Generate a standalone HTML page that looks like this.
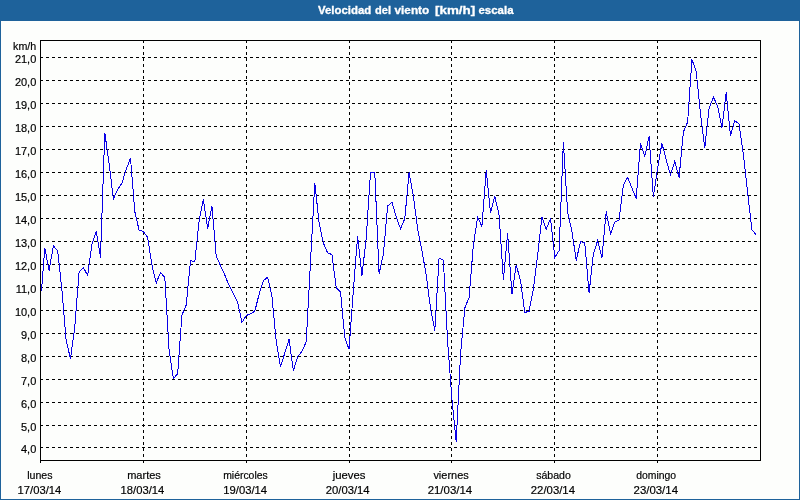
<!DOCTYPE html>
<html lang="es">
<head>
<meta charset="utf-8">
<title>Velocidad del viento [km/h] escala</title>
<style>
html,body{margin:0;padding:0;}
body{width:800px;height:500px;overflow:hidden;background:#1e629b;font-family:"Liberation Sans",sans-serif;}
#frame{position:absolute;left:0;top:0;width:800px;height:500px;background:#1e629b;}
#inner{position:absolute;left:1px;top:21px;width:798px;height:478px;background:#fdfefc;}
svg{position:absolute;left:0;top:0;}
text{font-family:"Liberation Sans",sans-serif;font-size:11px;fill:#000;stroke:#000;stroke-width:0.18px;}
.title{font-weight:bold;fill:#ffffff;stroke:#ffffff;stroke-width:0.3px;}
.grid line{stroke:#000;stroke-width:1;stroke-dasharray:3 3;shape-rendering:crispEdges;}
.axis{stroke:#000;stroke-width:1;fill:none;shape-rendering:crispEdges;}
.data{stroke:#0a00e6;stroke-width:1;fill:none;shape-rendering:crispEdges;stroke-linejoin:miter;}
</style>
</head>
<body>
<div id="frame"><div id="inner"></div>
<svg width="800" height="500" viewBox="0 0 800 500">
<text class="title" x="318.00" y="14" textLength="53.25" lengthAdjust="spacingAndGlyphs">Velocidad</text>
<text class="title" x="375.00" y="14" textLength="16.00" lengthAdjust="spacingAndGlyphs">del</text>
<text class="title" x="394.50" y="14" textLength="34.75" lengthAdjust="spacingAndGlyphs">viento</text>
<text class="title" x="435.00" y="14" textLength="40.25" lengthAdjust="spacingAndGlyphs">[km/h]</text>
<text class="title" x="478.50" y="14" textLength="35.00" lengthAdjust="spacingAndGlyphs">escala</text>
<g class="grid">
<line x1="40" y1="57.5" x2="760" y2="57.5"/>
<line x1="40" y1="80.5" x2="760" y2="80.5"/>
<line x1="40" y1="103.5" x2="760" y2="103.5"/>
<line x1="40" y1="126.5" x2="760" y2="126.5"/>
<line x1="40" y1="149.5" x2="760" y2="149.5"/>
<line x1="40" y1="172.5" x2="760" y2="172.5"/>
<line x1="40" y1="195.5" x2="760" y2="195.5"/>
<line x1="40" y1="218.5" x2="760" y2="218.5"/>
<line x1="40" y1="241.5" x2="760" y2="241.5"/>
<line x1="40" y1="264.5" x2="760" y2="264.5"/>
<line x1="40" y1="287.5" x2="760" y2="287.5"/>
<line x1="40" y1="310.5" x2="760" y2="310.5"/>
<line x1="40" y1="333.5" x2="760" y2="333.5"/>
<line x1="40" y1="356.5" x2="760" y2="356.5"/>
<line x1="40" y1="379.5" x2="760" y2="379.5"/>
<line x1="40" y1="402.5" x2="760" y2="402.5"/>
<line x1="40" y1="425.5" x2="760" y2="425.5"/>
<line x1="40" y1="447.5" x2="760" y2="447.5"/>
<line x1="143.5" y1="40" x2="143.5" y2="460"/>
<line x1="246.5" y1="40" x2="246.5" y2="460"/>
<line x1="349.5" y1="40" x2="349.5" y2="460"/>
<line x1="451.5" y1="40" x2="451.5" y2="460"/>
<line x1="554.5" y1="40" x2="554.5" y2="460"/>
<line x1="657.5" y1="40" x2="657.5" y2="460"/>
</g>
<rect class="axis" x="40.5" y="40.5" width="720" height="420"/>
<g class="axis">
<line x1="40.5" y1="460" x2="40.5" y2="463"/>
<line x1="143.5" y1="460" x2="143.5" y2="463"/>
<line x1="246.5" y1="460" x2="246.5" y2="463"/>
<line x1="349.5" y1="460" x2="349.5" y2="463"/>
<line x1="451.5" y1="460" x2="451.5" y2="463"/>
<line x1="554.5" y1="460" x2="554.5" y2="463"/>
<line x1="657.5" y1="460" x2="657.5" y2="463"/>
</g>
<text x="36.3" y="49.5" text-anchor="end" textLength="23.2" lengthAdjust="spacingAndGlyphs">km/h</text>
<text x="36.3" y="63" text-anchor="end">21,0</text>
<text x="36.3" y="86" text-anchor="end">20,0</text>
<text x="36.3" y="109" text-anchor="end">19,0</text>
<text x="36.3" y="132" text-anchor="end">18,0</text>
<text x="36.3" y="155" text-anchor="end">17,0</text>
<text x="36.3" y="178" text-anchor="end">16,0</text>
<text x="36.3" y="201" text-anchor="end">15,0</text>
<text x="36.3" y="224" text-anchor="end">14,0</text>
<text x="36.3" y="247" text-anchor="end">13,0</text>
<text x="36.3" y="270" text-anchor="end">12,0</text>
<text x="36.3" y="293" text-anchor="end">11,0</text>
<text x="36.3" y="316" text-anchor="end">10,0</text>
<text x="36.3" y="339" text-anchor="end">9,0</text>
<text x="36.3" y="362" text-anchor="end">8,0</text>
<text x="36.3" y="385" text-anchor="end">7,0</text>
<text x="36.3" y="408" text-anchor="end">6,0</text>
<text x="36.3" y="431" text-anchor="end">5,0</text>
<text x="36.3" y="453" text-anchor="end">4,0</text>
<text x="27.15" y="479" textLength="25.35" lengthAdjust="spacingAndGlyphs">lunes</text>
<text x="17.55" y="494" textLength="43.70" lengthAdjust="spacingAndGlyphs">17/03/14</text>
<text x="127.15" y="479" textLength="33.70" lengthAdjust="spacingAndGlyphs">martes</text>
<text x="120.55" y="494" textLength="43.70" lengthAdjust="spacingAndGlyphs">18/03/14</text>
<text x="223.15" y="479" textLength="44.60" lengthAdjust="spacingAndGlyphs">miércoles</text>
<text x="223.30" y="494" textLength="43.85" lengthAdjust="spacingAndGlyphs">19/03/14</text>
<text x="332.75" y="479" textLength="32.75" lengthAdjust="spacingAndGlyphs">jueves</text>
<text x="325.80" y="494" textLength="43.85" lengthAdjust="spacingAndGlyphs">20/03/14</text>
<text x="433.40" y="479" textLength="35.35" lengthAdjust="spacingAndGlyphs">viernes</text>
<text x="427.65" y="494" textLength="44.50" lengthAdjust="spacingAndGlyphs">21/03/14</text>
<text x="536.15" y="479" textLength="34.70" lengthAdjust="spacingAndGlyphs">sábado</text>
<text x="530.80" y="494" textLength="44.20" lengthAdjust="spacingAndGlyphs">22/03/14</text>
<text x="636.25" y="479" textLength="39.90" lengthAdjust="spacingAndGlyphs">domingo</text>
<text x="633.55" y="494" textLength="44.45" lengthAdjust="spacingAndGlyphs">23/03/14</text>
<polyline class="data" points="41.50,291.00 44.79,248.00 49.07,270.50 53.36,246.00 57.64,250.50 61.93,290.00 66.21,341.00 70.50,358.50 74.79,327.00 79.07,272.00 83.36,267.50 87.64,275.50 91.93,244.00 96.21,231.00 100.50,257.50 104.79,133.00 109.07,163.00 113.36,199.00 117.64,189.50 121.93,183.00 126.21,169.50 130.50,158.00 134.79,211.50 139.07,230.00 143.36,231.50 147.64,237.50 151.93,265.00 156.21,283.00 160.50,272.50 164.79,277.50 169.07,350.00 173.36,378.75 177.64,373.75 181.93,315.00 186.21,305.00 190.50,260.50 194.79,262.00 199.07,221.00 203.36,199.40 207.64,228.50 211.93,206.25 216.21,256.00 220.50,265.50 224.79,275.00 229.07,285.50 233.36,293.50 237.64,302.00 241.93,322.50 246.21,315.60 250.50,313.75 254.79,311.25 259.07,294.40 263.36,280.60 267.64,277.25 271.93,296.25 276.21,341.25 280.50,366.90 284.79,353.00 289.07,339.40 293.36,370.60 297.64,356.70 301.93,351.50 306.21,341.90 310.50,262.00 314.79,183.10 319.07,222.50 323.36,243.00 327.64,252.90 331.93,254.60 336.21,287.50 340.50,292.00 344.79,337.50 349.07,349.40 353.36,290.00 357.64,236.00 361.93,276.00 366.21,238.00 370.50,172.50 374.79,172.50 379.07,273.75 383.36,254.40 387.64,206.00 391.93,202.25 396.21,217.00 400.50,228.75 404.79,218.75 409.07,172.50 413.36,196.25 417.64,228.75 421.93,250.60 426.21,275.00 430.50,308.00 434.79,330.50 439.07,258.00 443.36,260.00 447.64,342.00 451.93,399.00 456.21,441.50 460.50,355.00 464.79,308.00 469.07,297.50 473.36,245.00 477.64,217.25 481.93,226.50 486.21,170.25 490.50,213.10 494.79,196.25 499.07,215.00 503.36,279.75 507.64,233.10 511.93,294.40 516.21,265.00 520.50,280.60 524.79,312.50 529.07,311.25 533.36,289.40 537.64,255.00 541.93,217.25 546.21,229.40 550.50,218.60 554.79,257.50 559.07,250.60 563.36,142.25 567.64,212.00 571.93,231.25 576.21,260.60 580.50,241.50 584.79,243.00 589.07,293.00 593.36,254.40 597.64,240.40 601.93,257.50 606.21,211.50 610.50,233.90 614.79,222.25 619.07,220.00 623.36,185.00 627.64,177.50 631.93,188.00 636.21,198.50 640.50,143.10 644.79,156.25 649.07,136.25 653.36,196.90 657.64,168.00 661.93,143.30 666.21,160.00 670.50,174.75 674.79,161.25 679.07,177.50 683.36,132.00 687.64,122.00 691.93,59.40 696.21,71.50 700.50,113.75 704.79,147.75 709.07,108.00 713.36,97.25 717.64,106.00 721.93,127.75 726.21,92.50 730.50,135.60 734.79,120.60 739.07,124.00 743.36,154.50 747.64,192.50 751.93,230.00 756.21,234.75"/>
</svg>
</div>
</body>
</html>
